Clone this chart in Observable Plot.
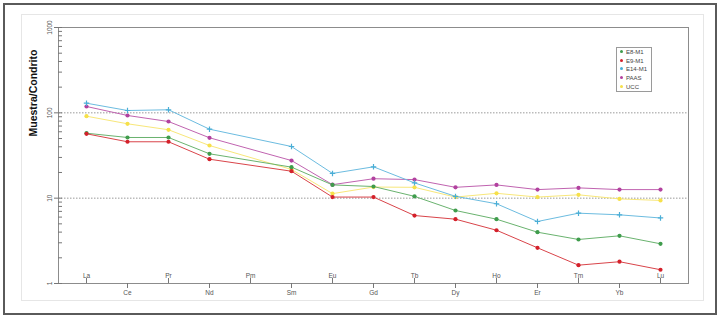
<!DOCTYPE html>
<html>
<head>
<meta charset="utf-8">
<script src="https://cdn.jsdelivr.net/npm/d3@7"></script>
<script src="https://cdn.jsdelivr.net/npm/@observablehq/plot@0.6"></script>
<style>
  body { margin: 0; background: #fff; font-family: "Liberation Sans", Arial, sans-serif; }
  #wrap { position: relative; width: 719px; height: 318px; overflow: hidden; }
  #outer { position: absolute; left: 3px; top: 3px; width: 710px; height: 308px; border: 2px solid #5a5a5a; }
  #panel { position: absolute; left: 21px; top: 14px; width: 681px; height: 285px; border: 1px solid #e6e6e6; }
  #chart { position: absolute; left: 0; top: 0; }
  #legend { position: absolute; left: 616px; top: 47px; width: 34px; height: 43px; border: 1px solid #9a9a9a; background: #fff; font-size: 6px; color: #444; }
  #legend .row { position: absolute; left: 3px; height: 8px; line-height: 8px; white-space: nowrap; }
  #legend .sw { display: inline-block; width: 3px; height: 3px; border-radius: 50%; margin-right: 3px; vertical-align: middle; position: relative; top: -1px; }
</style>
</head>
<body>
<div id="wrap">
  <div id="outer"></div>
  <div id="panel"></div>
  <div id="chart"></div>
  <div id="legend"></div>
</div>
<script>
// ---- data ----
const elements = ["La","Ce","Pr","Nd","Pm","Sm","Eu","Gd","Tb","Dy","Ho","Er","Tm","Yb","Lu"];
const upperLabels = ["La","Pr","Pm","Eu","Tb","Ho","Tm","Lu"];
const lowerLabels = ["Ce","Nd","Sm","Gd","Dy","Er","Yb"];
const seriesNames = ["E8-M1","E9-M1","E14-M1","PAAS","UCC"];
const seriesColors = ["#3f9c4c","#d4202a","#4aaed6","#b2419f","#f6e04a"];
const lineColors = ["#6ab36f","#d9444a","#6cbce0","#c063b0","#f8e77a"];
const symbols = ["circle","circle","plus","circle","circle"];

const e8  = [57.7, 51.4, 51.4, 33.1, null, 23.1, 14.3, 13.7, 10.5, 7.17, 5.67, 3.99, 3.28, 3.62, 2.92];
const e9  = [56.8, 45.8, 45.8, 28.6, null, 20.7, 10.3, 10.3, 6.26, 5.67, 4.21, 2.62, 1.64, 1.80, 1.45];
const e14 = [129.7, 106.5, 108.6, 64.3, null, 40.3, 19.5, 23.3, 15.1, 10.5, 8.6, 5.33, 6.67, 6.38, 5.86];
const paas = [118.7, 93.1, 79.1, 51.0, null, 27.6, 14.4, 16.9, 16.5, 13.4, 14.3, 12.6, 13.2, 12.6, 12.6];
const ucc = [91.3, 74.4, 63.3, 41.4, null, 21.7, 11.3, 13.5, 13.4, 10.3, 11.4, 10.3, 10.95, 9.8, 9.4];

const yMajor = [1, 10, 100, 1000];
const yMinor = [1,2,3,4,5,6,7,8,9,10,20,30,40,50,60,70,80,90,100,200,300,400,500,600,700,800,900,1000];
const gridValues = [10, 100];
const yLabel = "Muestra/Condrito";

// ---- build table ----
const allSeries = [e8, e9, e14, paas, ucc];
const rows = [];
allSeries.forEach((vals, i) => {
  vals.forEach((v, j) => {
    if (v != null) rows.push({series: seriesNames[i], el: elements[j], v});
  });
});
// draw order: UCC, PAAS, E14, E8, E9 (E9 on top)
const drawOrder = [4, 3, 2, 0, 1];

const marks = [
  Plot.ruleY(gridValues, {stroke: "#9a9a9a", strokeWidth: 1, strokeDasharray: "1.5,1.5"}),
  Plot.frame({stroke: "#8c8c8c", strokeWidth: 1}),
  // y axis
  Plot.axisY(yMinor, {anchor: "left", tickSize: -4, tickFormat: () => "", stroke: "#777", label: null}),
  Plot.axisY(yMajor, {anchor: "left", tickSize: 4, tickRotate: -90, tickPadding: 3, fontSize: 6.5, fill: "#555", stroke: "#777", tickFormat: d => String(d), label: null}),
  // x axis, lower labels
  Plot.axisX(lowerLabels, {anchor: "bottom", tickSize: 5, tickPadding: 2, fontSize: 6.5, fill: "#555", stroke: "#777", label: null}),
  // x axis, upper labels (ticks pointing inward)
  Plot.axisX(upperLabels, {anchor: "bottom", tickSize: -5, tickPadding: -1, lineAnchor: "bottom", fontSize: 6.5, fill: "#555", stroke: "#777", label: null}),
  Plot.text([yLabel], {frameAnchor: "left", dx: -25, dy: -19, rotate: -90, fontSize: 10.5, fontWeight: "bold", fill: "#111"})
];
drawOrder.forEach(i => {
  const data = rows.filter(d => d.series === seriesNames[i]);
  marks.push(Plot.line(data, {x: "el", y: "v", stroke: lineColors[i], strokeWidth: 1}));
});
drawOrder.forEach(i => {
  const data = rows.filter(d => d.series === seriesNames[i]);
  if (symbols[i] === "plus") {
    marks.push(Plot.dot(data, {x: "el", y: "v", symbol: "plus", r: 1.9, stroke: seriesColors[i], strokeWidth: 1.2}));
  } else {
    marks.push(Plot.dot(data, {x: "el", y: "v", symbol: "circle", r: 2.1, fill: seriesColors[i], stroke: "none"}));
  }
});

const chart = Plot.plot({
  width: 719,
  height: 318,
  marginLeft: 58,
  marginRight: 31,
  marginTop: 27,
  marginBottom: 35,
  style: {fontFamily: "'Liberation Sans', Arial, sans-serif", background: "transparent"},
  x: {type: "point", domain: elements, padding: 0.572, axis: null},
  y: {type: "log", domain: [1, 1000], axis: null},
  marks
});
document.getElementById("chart").appendChild(chart);

// legend (HTML)
const legend = document.getElementById("legend");
seriesNames.forEach((name, i) => {
  const row = document.createElement("div");
  row.className = "row";
  row.style.top = (0 + i * 8.7) + "px";
  const sw = document.createElement("span");
  sw.className = "sw";
  sw.style.background = seriesColors[i];
  row.appendChild(sw);
  row.appendChild(document.createTextNode(name));
  legend.appendChild(row);
});
</script>
</body>
</html>
